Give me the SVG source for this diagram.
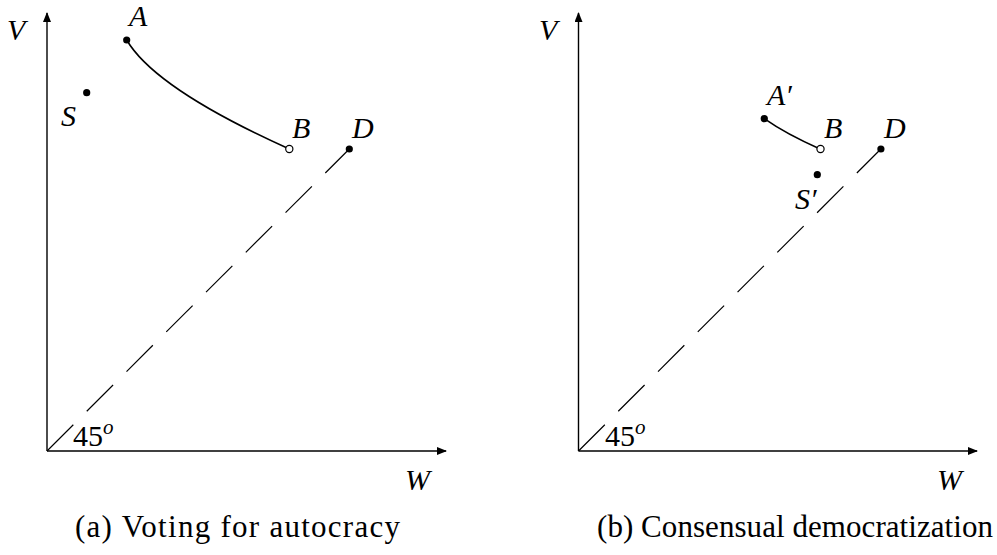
<svg xmlns="http://www.w3.org/2000/svg" width="997" height="555" viewBox="0 0 997 555">
<style>
.ax{stroke:#000;stroke-width:1.4;fill:none}
.cv{stroke:#000;stroke-width:1.6;fill:none}
.dash{stroke:#000;stroke-width:1.2;fill:none;stroke-dasharray:37.2 19}
text{font-family:"Liberation Serif","DejaVu Serif",serif;fill:#000}
.lbl{font-style:italic;font-size:30px}
.num{font-size:30px}
.cap{font-size:31px}
.dot{fill:#000}
.open{fill:#fff;stroke:#000;stroke-width:1.2}
</style>
<defs>
<marker id="arr" viewBox="0 0 10 8" refX="9" refY="4" markerWidth="10" markerHeight="8" markerUnits="userSpaceOnUse" orient="auto">
<path d="M0,0 L10,4 L0,8 Z" fill="#000"/>
</marker>
</defs>
<rect width="997" height="555" fill="#fff"/>

<!-- Panel (a) -->
<g id="panel-a">
<g id="connectors-a">
<line class="ax" x1="47" y1="451" x2="47" y2="13" marker-end="url(#arr)"/>
<line class="ax" x1="47" y1="451" x2="446" y2="451" marker-end="url(#arr)"/>
<line class="dash" x1="47" y1="451" x2="349.3" y2="149"/>
<path class="cv" d="M126.7,40 Q155.3,88.7 289.3,149"/>
</g>
<g id="node-A"><circle class="dot" cx="126.7" cy="40" r="3.6"/><text class="lbl" x="129" y="26">A</text></g>
<g id="node-S"><circle class="dot" cx="86.7" cy="92.7" r="3.6"/><text class="lbl" x="61" y="126">S</text></g>
<g id="node-B"><circle class="open" cx="289.3" cy="149" r="3.6"/><text class="lbl" x="292" y="138">B</text></g>
<g id="node-D"><circle class="dot" cx="349.3" cy="149" r="3.6"/><text class="lbl" x="352" y="138">D</text></g>
<text class="lbl" x="7" y="40">V</text>
<text class="lbl" x="405" y="490">W</text>
<text class="num" x="73" y="446">45<tspan font-style="italic" font-size="21" dy="-12">o</tspan></text>
<text class="cap" x="75" y="537" textLength="325" lengthAdjust="spacing">(a) Voting for autocracy</text>
</g>

<!-- Panel (b) -->
<g id="panel-b">
<g id="connectors-b">
<line class="ax" x1="578.5" y1="451" x2="578.5" y2="13" marker-end="url(#arr)"/>
<line class="ax" x1="578.5" y1="451" x2="977" y2="451" marker-end="url(#arr)"/>
<line class="dash" x1="578.5" y1="451" x2="880.9" y2="149"/>
<path class="cv" d="M764.3,118.7 Q786,134 820,149"/>
</g>
<g id="node-A2"><circle class="dot" cx="764.3" cy="118.7" r="3.6"/><text class="lbl" x="767" y="105">A′</text></g>
<g id="node-B2"><circle class="open" cx="820.5" cy="149" r="3.6"/><text class="lbl" x="824" y="138">B</text></g>
<g id="node-D2"><circle class="dot" cx="880.9" cy="149" r="3.6"/><text class="lbl" x="884" y="138">D</text></g>
<g id="node-S2"><circle class="dot" cx="817.3" cy="174.7" r="3.6"/><text class="lbl" x="795" y="209">S′</text></g>
<text class="lbl" x="539" y="40">V</text>
<text class="lbl" x="937" y="490">W</text>
<text class="num" x="605" y="446">45<tspan font-style="italic" font-size="21" dy="-12">o</tspan></text>
<text class="cap" x="597" y="537" textLength="396" lengthAdjust="spacing">(b) Consensual democratization</text>
</g>
</svg>
